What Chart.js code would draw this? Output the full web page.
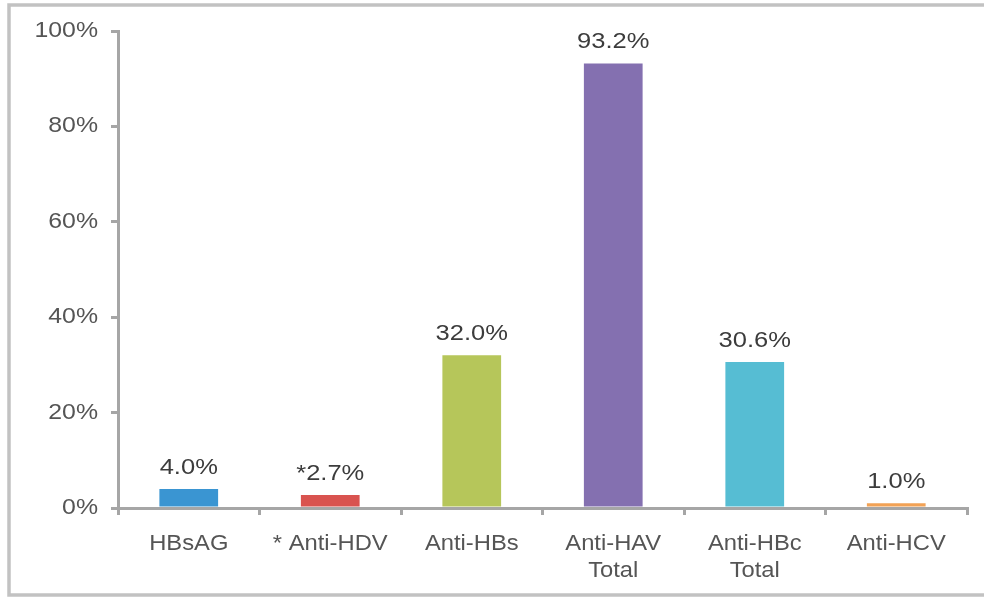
<!DOCTYPE html>
<html><head><meta charset="utf-8">
<style>
html,body{margin:0;padding:0;background:#fff;overflow:hidden;}
canvas{display:block;}
</style>
<script src="https://cdn.jsdelivr.net/npm/chart.js@4"></script>
</head><body>
<canvas id="c" width="984" height="598"></canvas>
<script>
const categories = ["HBsAG", "* Anti-HDV", "Anti-HBs", ["Anti-HAV","Total"], ["Anti-HBc","Total"], "Anti-HCV"];
const values = [4.0, 2.7, 32.0, 93.2, 30.6, 1.0];
const valueLabels = ["4.0%", "*2.7%", "32.0%", "93.2%", "30.6%", "1.0%"];
const barColors = ["#3a95d2", "#d9534f", "#b6c65a", "#8470b0", "#56bdd3", "#f2a255"];
const yTicks = [0, 20, 40, 60, 80, 100];

const FONT = '22px "Liberation Sans", Arial, sans-serif';

function stretchedText(ctx, text, x, y, align, sx) {
  ctx.save();
  ctx.translate(x, y);
  ctx.scale(sx, 1);
  ctx.textAlign = align;
  ctx.fillText(text, 0, 0);
  ctx.restore();
}

const framePlugin = {
  id: 'frame',
  beforeDraw(chart) {
    const ctx = chart.ctx;
    ctx.save();
    ctx.fillStyle = '#ffffff';
    ctx.fillRect(0, 0, chart.width, chart.height);
    ctx.strokeStyle = '#c2c2c2';
    ctx.lineWidth = 3.5;
    ctx.strokeRect(9, 5, 1100, 590);
    ctx.restore();
  }
};

const textPlugin = {
  id: 'customText',
  afterDatasetsDraw(chart) {
    const ctx = chart.ctx;
    ctx.save();
    ctx.font = FONT;
    ctx.fillStyle = '#3c3c3c';
    ctx.textBaseline = 'alphabetic';
    const meta = chart.getDatasetMeta(0);
    meta.data.forEach((bar, i) => {
      stretchedText(ctx, valueLabels[i], bar.x, bar.y - 15, 'center', 1.16);
    });
    const ys = chart.scales.y;
    ctx.fillStyle = '#555555';
    ctx.textBaseline = 'middle';
    yTicks.forEach(v => {
      stretchedText(ctx, v + '%', ys.left + 98, ys.getPixelForValue(v), 'right', 1.13);
    });
    const xs = chart.scales.x;
    categories.forEach((lab, i) => {
      const lines = Array.isArray(lab) ? lab : [lab];
      const x = xs.getPixelForValue(i);
      lines.forEach((ln, j) => {
        stretchedText(ctx, ln, x, xs.top + 36 + j * 26.5, 'center', 1.08);
      });
    });
    ctx.restore();
  }
};

new Chart(document.getElementById('c'), {
  type: 'bar',
  data: {
    labels: categories,
    datasets: [{
      data: values,
      backgroundColor: barColors,
      borderWidth: 0,
      barPercentage: 0.415,
      categoryPercentage: 1.0
    }]
  },
  options: {
    responsive: false,
    animation: false,
    devicePixelRatio: 1,
    layout: { padding: { left: 0, right: 17, top: 31, bottom: 0 } },
    plugins: { legend: { display: false }, tooltip: { enabled: false } },
    scales: {
      y: {
        min: 0, max: 100,
        afterBuildTicks(axis) { axis.ticks = yTicks.map(v => ({ value: v })); },
        afterFit(axis) { axis.width = 118; },
        ticks: { display: false },
        grid: { drawOnChartArea: false, drawTicks: true, tickLength: 7, color: '#a6a6a6', lineWidth: 3 },
        border: { color: '#a6a6a6', width: 3 }
      },
      x: {
        afterFit(axis) { axis.height = 90; },
        ticks: { display: false },
        grid: { drawOnChartArea: false, drawTicks: true, tickLength: 7, color: '#a6a6a6', lineWidth: 3, offset: true },
        border: { color: '#a6a6a6', width: 3 }
      }
    }
  },
  plugins: [framePlugin, textPlugin]
});
</script>
</body></html>
